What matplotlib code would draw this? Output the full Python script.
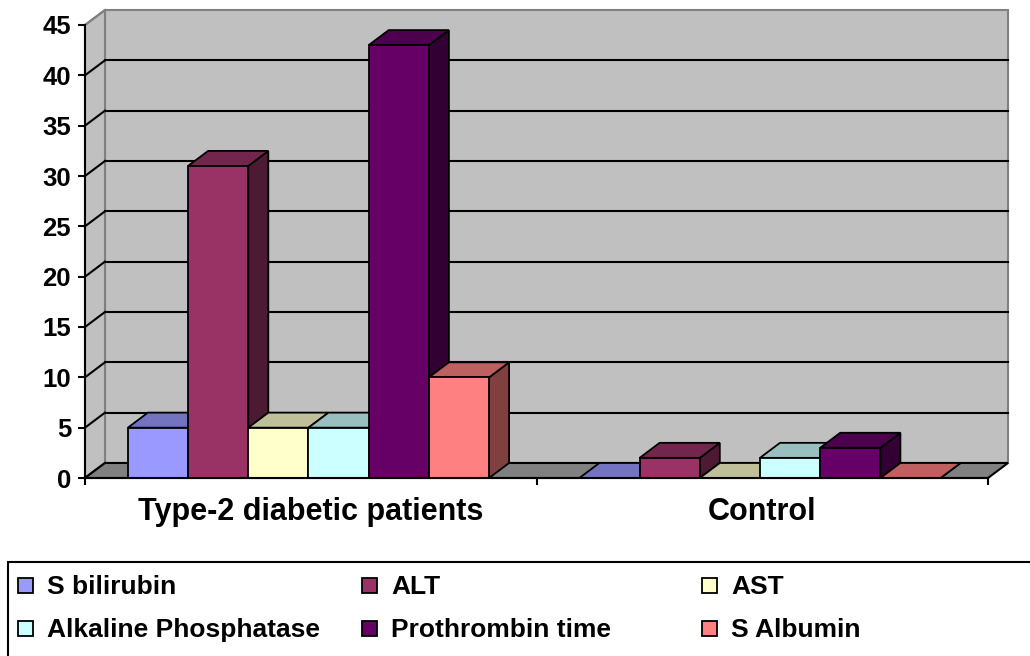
import numpy as np
import matplotlib
matplotlib.use("Agg")
import matplotlib.pyplot as plt
from matplotlib.patches import Polygon, Rectangle
from matplotlib.colors import to_rgb

groups = ["Type-2 diabetic patients", "Control"]
series = ["S bilirubin", "ALT", "AST", "Alkaline Phosphatase", "Prothrombin time", "S Albumin"]
diabetic = [5, 31, 5, 5, 43, 10]
control = [0, 2, 0, 2, 3, 0]
colors = ["#9999FF", "#993366", "#FFFFCC", "#CCFFFF", "#660066", "#FF8080"]
yticks = list(range(0, 50, 5))

plt.rcParams["font.family"] = ["Liberation Sans", "DejaVu Sans"]
plt.rcParams["font.weight"] = "bold"

W, H = 1030, 656
fig = plt.figure(figsize=(W / 100, H / 100), dpi=100)
ax = fig.add_axes([85 / W, 1 - 478 / H, (988 - 85) / W, (478 - 25) / H])
ax.set_xlim(0, 2)
ax.set_ylim(0, 45)

# depth offset of the fake 3d (20 px right, 15 px up)
DX = 20 / 451.5
DY = 15 / (452.3 / 45)
top_y = 45 + DY

def shade(c, f):
    r, g, b = to_rgb(c)
    return (r * f, g * f, b * f)

# walls and floor
ax.add_patch(Polygon([(DX, DY), (2 + DX, DY), (2 + DX, top_y), (DX, top_y)],
                     closed=True, fc="#C0C0C0", ec="#808080", lw=1.5, zorder=0, clip_on=False))
ax.add_patch(Polygon([(0, 0), (DX, DY), (DX, top_y), (0, 45)],
                     closed=True, fc="#C0C0C0", ec="#808080", lw=1.5, zorder=0, clip_on=False))
ax.add_patch(Polygon([(0, 0), (2, 0), (2 + DX, DY), (DX, DY)],
                     closed=True, fc="#808080", ec="black", lw=1.5, zorder=1, clip_on=False))
for v in yticks[1:-1]:
    ax.plot([DX, 2 + DX], [v + DY, v + DY], color="black", lw=1.5, zorder=0.5, clip_on=False)
for v in yticks[:-1]:
    ax.plot([0, DX], [v, v + DY], color="black", lw=1.5, zorder=0.5, clip_on=False)
ax.plot([0, DX], [45, top_y], color="#808080", lw=1.5, zorder=0.5, clip_on=False)

# bars
bw = 0.8 / len(series)
z = 2
for g, vals in enumerate([diabetic, control]):
    for i, (h, c) in enumerate(zip(vals, colors)):
        x0 = g + 0.095 + i * bw
        side = [(x0 + bw, 0), (x0 + bw + DX, DY), (x0 + bw + DX, h + DY), (x0 + bw, h)]
        top = [(x0, h), (x0 + bw, h), (x0 + bw + DX, h + DY), (x0 + DX, h + DY)]
        ax.add_patch(Polygon(side, closed=True, fc=shade(c, 0.5), ec="black", lw=1.3,
                             zorder=z, clip_on=False))
        ax.add_patch(Polygon(top, closed=True, fc=shade(c, 0.75), ec="black", lw=1.3,
                             zorder=z, clip_on=False))
        ax.bar(x0, h, width=bw, align="edge", color=c, edgecolor="black", lw=1.3,
               zorder=z + 0.5, clip_on=False)
        z += 1

# axes styling
for s in ["top", "right"]:
    ax.spines[s].set_visible(False)
ax.spines["left"].set_bounds(0, 45)
ax.spines["left"].set_linewidth(1.5)
ax.spines["bottom"].set_linewidth(1.5)
ax.spines["bottom"].set_zorder(30)
ax.set_yticks(yticks)
ax.tick_params(axis="y", length=5, width=1.5, pad=5, labelsize=18.5)
ax.set_xticks([0, 1, 2])
ax.set_xticklabels([])
ax.set_xticks([0.5, 1.5], minor=True)
ax.set_xticklabels(groups, minor=True, fontsize=22, fontweight="bold")
ax.tick_params(axis="x", which="major", length=5, width=1.5)
ax.tick_params(axis="x", which="minor", length=0, pad=14)
ax.patch.set_visible(False)

# legend box
def fx(x):
    return x / W

def fy(y):
    return 1 - y / H

fig.patches.append(Rectangle((fx(8), fy(700)), fx(1100), 1 - fy(138) - 0 + 0,
                             transform=fig.transFigure, fill=False, ec="black", lw=1.5))
cols = [18, 362, 702]
rows = [585, 628]
for k, (name, c) in enumerate(zip(series, colors)):
    x = cols[k % 3]
    y = rows[k // 3]
    fig.patches.append(Rectangle((fx(x), fy(y + 7.5)), 15 / W, 15 / H,
                                 transform=fig.transFigure, fc=c, ec="black", lw=1.3))
    fig.text(fx(x + 29), fy(y + 2), name, fontsize=19, fontweight="bold",
             va="center", ha="left")

fig.savefig("out.png", dpi=100)
